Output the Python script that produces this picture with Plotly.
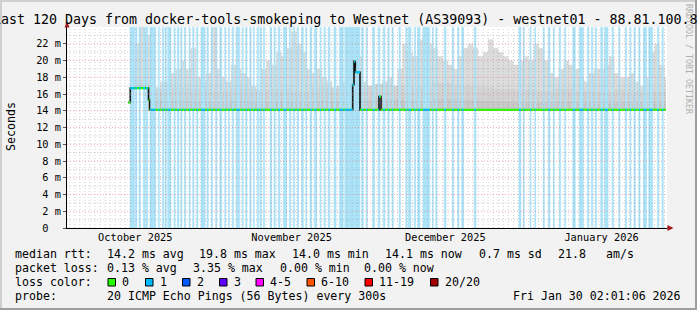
import numpy as np
import pandas as pd
import plotly.graph_objects as go

MONO = "DejaVu Sans Mono"
T0 = pd.Timestamp("2025-10-01 00:00")

# ---------------- data (times as day offsets from 2025-10-01 00:00, values in ms) -------------
median_day = [13.61, 14.00, 17.62, 17.81, 58.12, 58.38, 58.64, 59.57, 63.34, 63.74, 120.27]
median_ms = [15.0, 16.7, 15.3, 14.1, 17.1, 19.9, 18.6, 14.1, 15.7, 14.1, 14.1]

smoke_first_day = 14.0  # daily bins
smoke_max_ms = [
    20, 22, 24, 23, 17, 16.8, 17.5, 17.5, 18.5, 19, 20, 19, 21.5, 18, 17.5, 18.5, 24, 19, 18, 17.5,
    19.5, 19, 18.5, 18, 17, 16.5, 19,
    20, 19.5, 21, 20.5, 21.5, 23.5, 22, 21, 19, 18.5, 19, 18, 17.5, 16.8, 17, 17.5, 17.5, 21, 20.5,
    17.5, 17, 16.5, 16.8, 17.5, 18, 17,
    19, 22, 21, 20.5, 22.5, 23, 22, 21.5, 20.5, 20, 19.5, 19, 20.5, 21.5, 22, 21.5, 20.5, 21, 22.5,
    21.5, 21, 20.5, 20, 19.5, 20, 20.5, 20,
    22, 21.5, 20, 18.5, 18, 19, 20, 19.5, 19, 18, 17.5, 18.5, 19, 19, 19.5, 20.5, 18.5, 18, 18, 18.5,
    17.5, 17, 18, 21, 22, 19.5, 18,
]
smoke_band_days = 4  # coarser bins for the denser part of the smoke
smoke_mid_ms = [17.6, 16.5, 16.8, 16.6, 16.4, 16.7, 16.5, 16.6, 16.4, 16.8, 16.6, 17.0, 17.2, 17.0,
                16.8, 17.3, 17.0, 16.8, 16.6, 16.5, 16.4, 16.6, 16.4, 16.3, 16.5, 16.4, 16.3]
smoke_low_ms = [17.1, 15.2, 15.3, 15.1, 15.0, 15.2, 15.0, 15.1, 15.0, 15.2, 15.1, 15.3, 15.4, 15.3,
                15.2, 15.4, 15.3, 15.2, 15.1, 15.0, 15.0, 15.1, 15.0, 14.9, 15.0, 15.0, 14.9]

loss_start_day = [
    13.97, 15.06, 15.73, 16.58, 17.12, 17.91, 19.56, 20.35, 20.89, 21.42, 22.67, 23.33, 24.06, 24.72,
    25.65, 26.38, 27.18, 28.03, 29.22, 30.07, 30.95, 31.74, 32.73, 33.45, 34.24, 35.03, 36.22, 36.90,
    37.69, 38.41, 39.20, 39.73,
    40.39, 41.72, 42.51, 43.36, 44.36, 45.55, 46.34, 47.14, 48.01, 48.80, 49.65, 50.51, 51.64, 52.43,
    53.28, 54.41, 55.47, 56.54, 59.91, 60.76, 62.09, 63.20, 64.19, 65.13, 65.92,
    67.31, 68.64, 69.15, 70.34, 71.02, 72.07, 73.91, 74.59, 76.30, 77.88, 78.95, 79.75, 82.25, 91.11,
    91.97,
    93.30, 94.23, 95.93, 96.93, 97.92, 99.11, 100.18, 101.77, 103.07, 104.66, 105.45, 106.25, 107.32,
    108.11, 109.56, 110.89, 112.20, 113.13, 113.93, 114.86, 115.77, 116.84, 118.55, 119.48,
]
loss_end_day = [
    14.85, 15.33, 15.99, 16.92, 17.46, 19.04, 19.76, 20.63, 21.15, 22.08, 22.87, 23.67, 24.26, 25.00,
    25.85, 26.64, 27.44, 28.82, 29.48, 30.35, 31.20, 32.14, 32.93, 33.65, 34.52, 35.71, 36.42, 37.16,
    37.95, 38.60, 39.48, 39.99,
    40.67, 42.06, 42.77, 43.70, 45.03, 45.83, 46.62, 47.41, 48.33, 49.00, 49.99, 50.98, 51.84, 52.69,
    53.62, 54.81, 56.26, 59.57, 60.23, 61.02, 62.49, 63.54, 64.53, 65.38, 66.18,
    67.57, 68.90, 69.69, 70.62, 71.48, 73.40, 74.11, 74.85, 76.63, 78.16, 79.21, 80.14, 82.58, 91.51,
    92.17,
    93.50, 94.43, 96.13, 97.26, 98.12, 99.39, 100.38, 102.28, 103.87, 104.94, 105.73, 106.52, 107.72,
    108.77, 109.82, 111.15, 112.48, 113.33, 114.19, 115.12, 116.44, 117.64, 118.83, 119.74,
]

y_ticks_ms = list(range(0, 23, 2))
y_tick_text = [f"{v}\u00a0m" if v else "0\u00a0\u00a0" for v in y_ticks_ms]
month_labels = ["October 2025", "November 2025", "December 2025", "January 2026"]
month_label_at = ["2025-10-16 00:00", "2025-11-16 00:00", "2025-12-16 12:00", "2026-01-16 12:00"]
month_starts = ["2025-11-01", "2025-12-01", "2026-01-01"]

loss_labels = ["0", "1", "2", "3", "4-5", "6-10", "11-19", "20/20"]
loss_colors = ["#26ff00", "#00b8ff", "#0059ff", "#5e00ff", "#ff00ff", "#ff5500", "#ff0000", "#a10000"]

# ---------------- helpers -------------
def to_time(days):
    return [None if d is None else T0 + pd.Timedelta(days=float(d)) for d in days]

Y_TOP = 24.0
X_RANGE = ["2025-10-02 10:45", "2026-01-29 11:17"]
PX_L, PX_R, PX_T, PX_B = 67, 667, 27, 228
W, H = 697, 310

def fx(px):
    return (px - PX_L) / (PX_R - PX_L)

def fy(py):
    return (PX_B - py) / (PX_B - PX_T)

data_end = median_day[-1]

fig = go.Figure()

# smoke layers (light -> dark), step shaped
def smoke_trace(first, step, vals, color):
    edges = [first + step * k for k in range(len(vals))] + [data_end]
    ys = list(vals) + [vals[-1]]
    fig.add_trace(go.Scatter(x=to_time(edges), y=ys, mode="lines", line=dict(width=0, shape="hv"),
                             fill="tozeroy", fillcolor=color, hoverinfo="skip"))

smoke_trace(smoke_first_day, 1.0, smoke_max_ms, "#dcdcdc")
smoke_trace(smoke_first_day, smoke_band_days, smoke_mid_ms, "#d3d3d3")
smoke_trace(smoke_first_day, smoke_band_days, smoke_low_ms, "#c9c9c9")

# white below the median
fig.add_trace(go.Scatter(x=to_time(median_day), y=median_ms, mode="lines",
                         line=dict(width=0, shape="hv"), fill="tozeroy", fillcolor="#ffffff",
                         hoverinfo="skip"))

# loss background bands (full height), drawn over the smoke
lx, ly = [], []
for a, b in zip(loss_start_day, loss_end_day):
    lx += [a, a, b, b, a, None]
    ly += [0, Y_TOP, Y_TOP, 0, 0, None]
fig.add_trace(go.Scatter(x=to_time(lx), y=ly, mode="lines", line=dict(width=0.6, color="#abe3f8"),
                         fill="toself", fillcolor="#abe3f8", hoverinfo="skip"))

# median: black step line, then coloured horizontal pieces
fig.add_trace(go.Scatter(x=to_time(median_day), y=median_ms, mode="lines",
                         line=dict(color="#111111", width=1.6, shape="hv"), hoverinfo="skip"))
gx, gy = [], []
for i in range(len(median_day) - 1):
    gx += [median_day[i], median_day[i + 1], None]
    gy += [median_ms[i], median_ms[i], None]
fig.add_trace(go.Scatter(x=to_time(gx), y=gy, mode="lines",
                         line=dict(color="#26ff00", width=2.2), hoverinfo="skip"))
bx, by = [], []
for a, b in zip(loss_start_day, loss_end_day):
    for i in range(len(median_day) - 1):
        s, e = max(a, median_day[i]), min(b, median_day[i + 1])
        if e > s:
            bx += [s, e, None]
            by += [median_ms[i], median_ms[i], None]
fig.add_trace(go.Scatter(x=to_time(bx), y=by, mode="lines",
                         line=dict(color="#00b8ff", width=2.2), hoverinfo="skip"))

# ---------------- grid (drawn above, as in rrdtool) -------------
shapes = []
DOT = "1px,2px"
MINOR = "rgba(150,150,150,0.45)"
MAJOR = "rgba(235,110,110,0.55)"
for d in pd.date_range("2025-10-03", "2026-01-29", freq="D"):
    if d.strftime("%Y-%m-%d") in month_starts:
        continue
    shapes.append(dict(type="line", xref="x", yref="paper", x0=d, x1=d, y0=0, y1=1, layer="above",
                       line=dict(color=MINOR, width=1, dash=DOT)))
for m in month_starts:
    shapes.append(dict(type="line", xref="x", yref="paper", x0=m, x1=m, y0=0, y1=1, layer="above",
                       line=dict(color=MAJOR, width=1, dash=DOT)))
for v in range(1, 24):
    col = MAJOR if v % 2 == 0 else MINOR
    shapes.append(dict(type="line", xref="paper", yref="y", x0=0, x1=1, y0=v, y1=v, layer="above",
                       line=dict(color=col, width=1, dash=DOT)))

# axis arrows
ARROW = "#a01818"
shapes.append(dict(type="path", xref="paper", yref="paper", layer="above",
                   path=f"M {fx(64.5)},{fy(27.5)} L {fx(67)},{fy(21)} L {fx(69.5)},{fy(27.5)} Z",
                   fillcolor=ARROW, line=dict(width=0)))
shapes.append(dict(type="line", xref="paper", yref="paper", layer="above",
                   x0=fx(667), x1=fx(668.5), y0=0, y1=0, line=dict(color="#000", width=1)))
shapes.append(dict(type="path", xref="paper", yref="paper", layer="above",
                   path=f"M {fx(667.5)},{fy(225)} L {fx(673.5)},{fy(228)} L {fx(667.5)},{fy(231)} Z",
                   fillcolor=ARROW, line=dict(width=0)))

# 3D frame of the image
def rect_px(x0, y0, x1, y1, color):
    return dict(type="rect", xref="paper", yref="paper", x0=fx(x0), x1=fx(x1), y0=fy(y1), y1=fy(y0),
                fillcolor=color, line=dict(width=0), layer="above")
shapes.append(rect_px(0, 0, W, 2, "#cfcfcf"))
shapes.append(rect_px(0, 0, 2, H, "#cfcfcf"))
shapes.append(rect_px(0, H - 2, W, H, "#9e9e9e"))
shapes.append(rect_px(W - 2, 0, W, H, "#9e9e9e"))

# loss colour swatches
swatch_x = [108, 145.5, 182.5, 219.5, 256, 307, 365, 430.5]
for sx, c in zip(swatch_x, loss_colors):
    shapes.append(dict(type="rect", xref="paper", yref="paper", x0=fx(sx), x1=fx(sx + 7.5),
                       y0=fy(286), y1=fy(278.5), fillcolor=c, line=dict(color="#000", width=1),
                       layer="above"))

# ---------------- texts -------------
annots = []
def txt(px, py, s, size=11.6, color="#000", anchor="left", angle=0):
    annots.append(dict(xref="paper", yref="paper", x=fx(px), y=fy(py), text=s, showarrow=False,
                       xanchor=anchor, yanchor="middle", textangle=angle, borderpad=0, borderwidth=0,
                       font=dict(family=MONO, size=size, color=color)))

txt(-7.5, 19.3,
    "Last 120 Days from docker-tools-smokeping to Westnet (AS39093) - westnet01 - 88.81.100.8",
    size=13.3)
txt(11, 127, "Seconds", anchor="center", angle=-90)
txt(689, 59, "RRDTOOL / TOBI OETIKER", size=8.3, color="#b0b0b0", anchor="center", angle=90)

r1, r2, r3, r4 = 254.3, 268.3, 282.3, 296.0
txt(15.3, r1, "median rtt:")
txt(106.6, r1, "14.2 ms avg")
txt(199.3, r1, "19.8 ms max")
txt(291.8, r1, "14.0 ms min")
txt(385.3, r1, "14.1 ms now")
txt(478.6, r1, "0.7 ms sd")
txt(557.6, r1, "21.8")
txt(606.0, r1, "am/s")

txt(15.3, r2, "packet loss:")
txt(106.6, r2, "0.13 % avg")
txt(192.6, r2, "3.35 % max")
txt(280.3, r2, "0.00 % min")
txt(364.3, r2, "0.00 % now")

txt(15.3, r3, "loss color:")
for sx, lab in zip(swatch_x, loss_labels):
    txt(sx + 14.3, r3, lab)

txt(15.3, r4, "probe:")
txt(106.6, r4, "20 ICMP Echo Pings (56 Bytes) every 300s")
txt(512.6, r4, "Fri Jan 30 02:01:06 2026")

fig.update_layout(
    width=W, height=H, margin=dict(l=PX_L, r=W - PX_R, t=PX_T, b=H - PX_B),
    paper_bgcolor="#f2f2f2", plot_bgcolor="#ffffff", showlegend=False,
    shapes=shapes, annotations=annots,
    xaxis=dict(type="date", range=X_RANGE, showgrid=False, zeroline=False, showline=True,
               linecolor="#000", linewidth=1, tickvals=month_label_at, ticktext=month_labels,
               ticks="", tickfont=dict(family=MONO, size=10.3, color="#000"), fixedrange=True),
    yaxis=dict(range=[0, Y_TOP], showgrid=False, zeroline=False, showline=True, linecolor="#000",
               linewidth=1, tickvals=y_ticks_ms, ticktext=y_tick_text, ticks="outside", ticklen=3,
               tickcolor="#555", tickfont=dict(family=MONO, size=10.3, color="#000"),
               fixedrange=True),
)

fig.write_html("out.html")
